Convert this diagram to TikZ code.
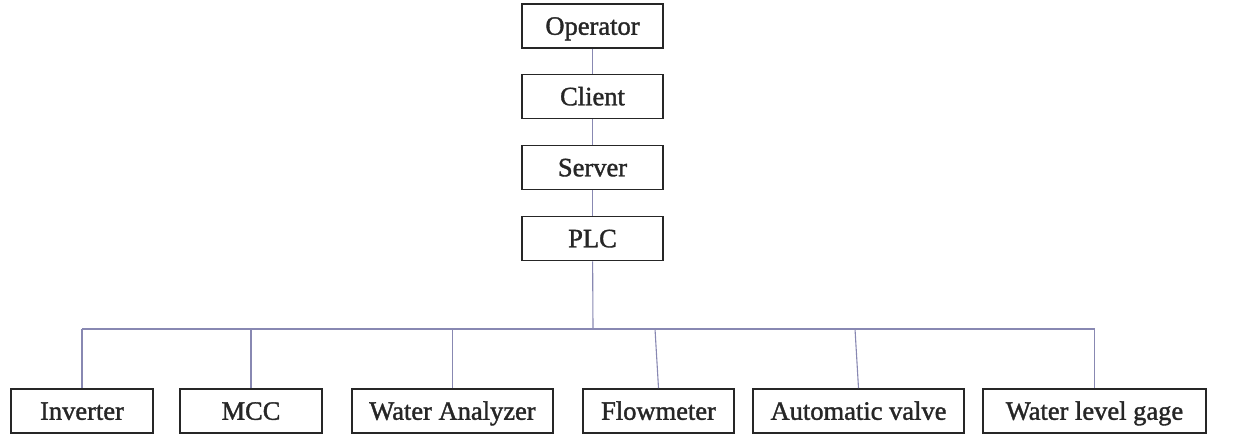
\documentclass[tikz,border=0pt]{standalone}
\usepackage{fontspec}
\setmainfont{Liberation Serif}[FakeBold=1.4]
\begin{document}
\begin{tikzpicture}[x=1pt,y=-1pt,
  box/.style={draw=black!85,line width=1.8pt,fill=white,inner sep=0pt,
    minimum height=44pt,text height=20pt,text depth=2.5pt,
    text=black!85,font=\fontsize{26.5}{30}\selectfont},
  link/.style={draw=linkblue,line width=1.1pt}]
\definecolor{linkblue}{RGB}{136,136,178}
\useasboundingbox (0,0) rectangle (1233,437);
% control chain
\node[box,minimum width=141pt] (op)  at (592.5,26)  {Operator};
\node[box,minimum width=141pt] (cli) at (592.5,96.5) {Client};
\node[box,minimum width=141pt] (srv) at (592.5,167.5) {Server};
\node[box,minimum width=141pt] (plc) at (592.5,238.5) {PLC};
% field devices
\node[box,minimum width=142pt] (inv) at (82,411)    {Inverter};
\node[box,minimum width=142pt] (mcc) at (251,411)   {MCC};
\node[box,minimum width=201pt] (wa)  at (452.5,411) {Water Analyzer};
\node[box,minimum width=151pt] (fm)  at (658.5,411) {Flowmeter};
\node[box,minimum width=211pt] (av)  at (858.5,411) {Automatic valve};
\node[box,minimum width=223pt] (wl)  at (1094.5,411) {Water level gage};
% bus taps
\coordinate (bus) at (593,329);
\coordinate (t1) at (82,329);
\coordinate (t2) at (251,329);
\coordinate (t3) at (452.5,329);
\coordinate (t4) at (655,329);
\coordinate (t5) at (855,329);
\coordinate (t6) at (1094.5,329);
\draw[link] (op) -- (cli);
\draw[link] (cli) -- (srv);
\draw[link] (srv) -- (plc);
\draw[link] (plc) -- (bus);
\draw[link] (t1) -- (t6);
\draw[link] (t1) -- (inv.north);
\draw[link] (t2) -- (mcc.north);
\draw[link] (t3) -- (wa.north);
\draw[link] (t4) -- (fm.north);
\draw[link] (t5) -- (av.north);
\draw[link] (t6) -- (wl.north);
\end{tikzpicture}
\end{document}
